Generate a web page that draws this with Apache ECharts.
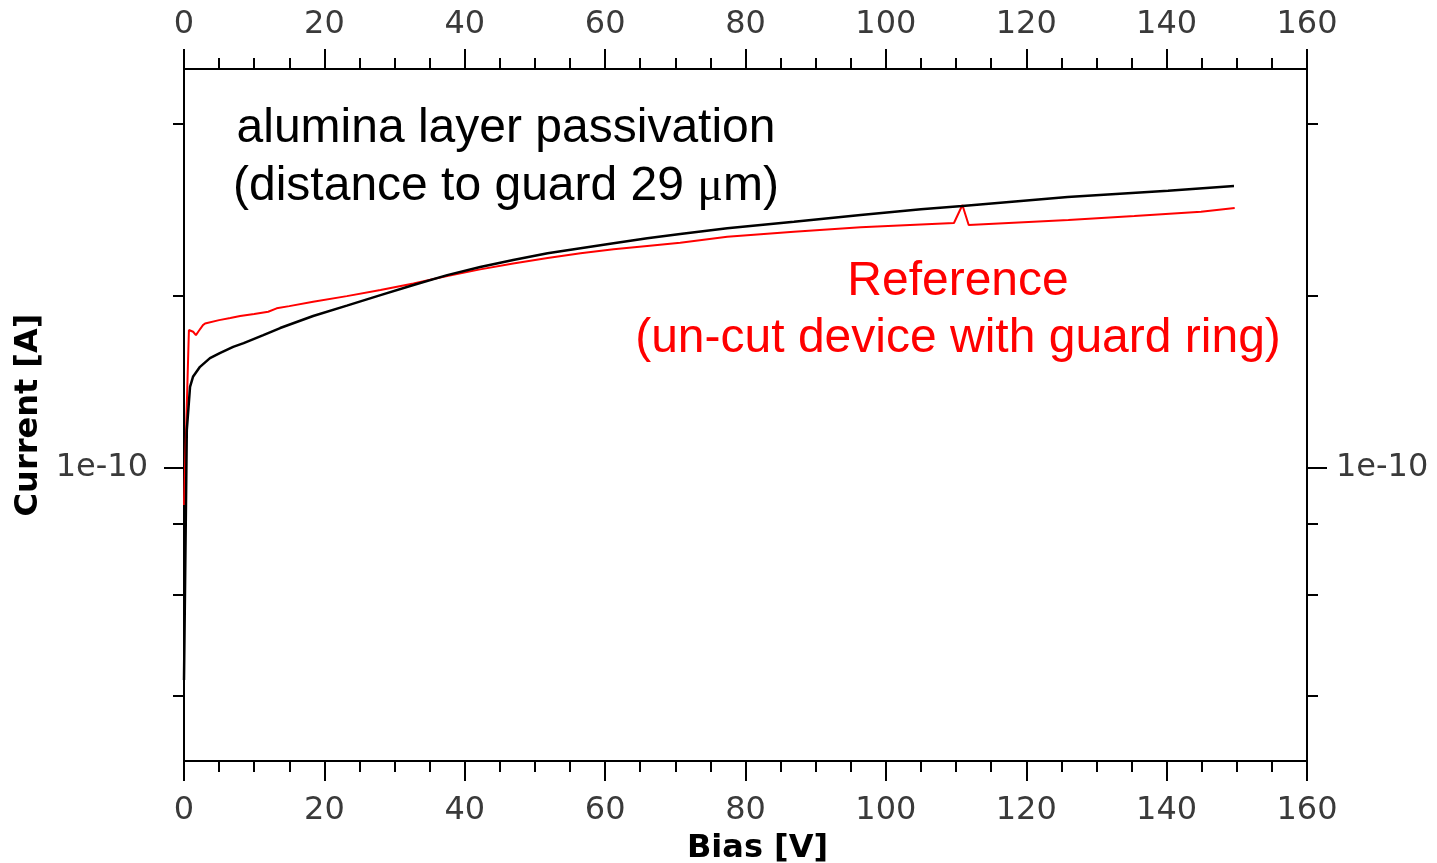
<!DOCTYPE html>
<html><head><meta charset="utf-8">
<script src="https://cdn.jsdelivr.net/npm/echarts@6/dist/echarts.min.js"></script>
<style>html,body{margin:0;padding:0;background:#fff}#c{width:1437px;height:863px}</style>
</head><body><div id="c"></div>
<script>
// ---- data ----
const biasBlack = [0, 0.4, 0.86, 1.28, 2.28, 3.7, 5.1, 7, 8.5, 11.3, 13.7, 18.4, 23.2, 28, 32.7, 37.5, 42.2, 46.9, 51.8, 56.5, 61.2, 66, 70.7, 77.4, 86.9, 96.4, 105, 110.9, 125.9, 140.2, 149.6];
const currentBlack = [4.26e-11, 1.165e-10, 1.387e-10, 1.444e-10, 1.503e-10, 1.557e-10, 1.589e-10, 1.629e-10, 1.654e-10, 1.708e-10, 1.757e-10, 1.844e-10, 1.923e-10, 2.006e-10, 2.089e-10, 2.174e-10, 2.246e-10, 2.310e-10, 2.374e-10, 2.422e-10, 2.471e-10, 2.522e-10, 2.566e-10, 2.625e-10, 2.696e-10, 2.770e-10, 2.834e-10, 2.872e-10, 2.978e-10, 3.054e-10, 3.113e-10];
const biasRed = [0, 0.7, 1.3, 1.7, 2.1, 2.7, 3, 5, 6.6, 8, 10, 12, 13.2, 15, 18.4, 23.2, 28, 32.7, 37.5, 42.2, 46.9, 51.8, 56.5, 61.2, 66, 70.7, 77.4, 86.9, 96.4, 105, 109.7, 110.9, 111.8, 126, 135.4, 144.9, 149.7];
const currentRed = [8.62e-11, 1.743e-10, 1.731e-10, 1.708e-10, 1.736e-10, 1.778e-10, 1.789e-10, 1.814e-10, 1.829e-10, 1.844e-10, 1.859e-10, 1.876e-10, 1.902e-10, 1.919e-10, 1.953e-10, 1.998e-10, 2.047e-10, 2.103e-10, 2.166e-10, 2.225e-10, 2.279e-10, 2.329e-10, 2.374e-10, 2.412e-10, 2.445e-10, 2.477e-10, 2.538e-10, 2.590e-10, 2.636e-10, 2.666e-10, 2.682e-10, 2.883e-10, 2.660e-10, 2.715e-10, 2.759e-10, 2.807e-10, 2.849e-10];
const xMin = 0, xMax = 160, xStep = 20;
const yMin = 3.075e-11, yMax = 4.985e-10;
const yMinorTicks = [4e-11, 6e-11, 8e-11, 2e-10, 4e-10];
const yMajorTicks = [1e-10];
const textBlack = ['alumina layer passivation', '(distance to guard 29 {mu|\u03bc}m)'];
const textRed = ['Reference', '(un-cut device with guard ring)'];

// ---- chart ----
const lg = Math.log10;
const tickFont = {fontFamily: 'DejaVu Sans', fontSize: 32, color: '#3a3a3a'};
const nameFont = {fontFamily: 'DejaVu Sans', fontSize: 32, fontWeight: 'bold', color: '#000'};
const lineStyle = {color: '#000', width: 2};

function xAxis(pos, withName, margin) {
  return {
    type: 'value', position: pos, min: xMin, max: xMax, interval: xStep,
    axisLine: {show: true, onZero: false, lineStyle},
    axisTick: {show: true, length: 20, lineStyle},
    minorTick: {show: true, splitNumber: 4, length: 11, lineStyle},
    splitLine: {show: false}, minorSplitLine: {show: false},
    axisLabel: Object.assign({margin}, tickFont),
    name: withName ? 'Bias [V]' : '', nameLocation: 'middle', nameGap: 72,
    nameTextStyle: Object.assign({padding: [0, 0, 0, 24]}, nameFont)
  };
}
function yAxis(pos, major, margin, withName) {
  return {
    type: 'value', position: pos, min: lg(yMin), max: lg(yMax),
    axisLine: {show: true, onZero: false, lineStyle},
    axisTick: {show: true, length: major ? 20 : 11, lineStyle,
               customValues: (major ? yMajorTicks : yMinorTicks).map(lg)},
    splitLine: {show: false},
    axisLabel: major ? Object.assign({show: true, margin, customValues: yMajorTicks.map(lg),
               formatter: v => '1e' + Math.round(v)}, tickFont) : {show: false},
    name: withName ? 'Current [A]' : '', nameLocation: 'middle', nameGap: 128, nameRotate: 90,
    nameTextStyle: nameFont
  };
}

const chart = echarts.init(document.getElementById('c'), null, {renderer: 'canvas'});
chart.setOption({
  animation: false,
  backgroundColor: '#fff',
  grid: {left: 184, right: 130, top: 69, bottom: 102, containLabel: false, outerBoundsMode: 'none'},
  xAxis: [xAxis('bottom', true, 34), xAxis('top', false, 28)],
  yAxis: [yAxis('left', false), yAxis('left', true, 36, true), yAxis('right', false), yAxis('right', true, 29, false)],
  series: [
    {type: 'line', name: 'Reference', xAxisIndex: 0, yAxisIndex: 0, showSymbol: false,
     lineStyle: {color: '#ff0000', width: 2}, itemStyle: {color: '#ff0000'},
     data: biasRed.map((v, i) => [v, lg(currentRed[i])])},
    {type: 'line', name: 'alumina', xAxisIndex: 0, yAxisIndex: 0, showSymbol: false,
     lineStyle: {color: '#000', width: 2.5}, itemStyle: {color: '#000'},
     data: biasBlack.map((v, i) => [v, lg(currentBlack[i])])}
  ],
  graphic: [
    [textBlack[0], 506, 129, '#000'], [textBlack[1], 506, 187, '#000'],
    [textRed[0], 958, 282, '#ff0000'], [textRed[1], 958, 339, '#ff0000']
  ].map(([t, x, y, c]) => ({
    type: 'text', x, y, silent: true,
    style: {text: t, fill: c, fontFamily: 'Liberation Sans', fontSize: 48,
            align: 'center', verticalAlign: 'middle',
            rich: {mu: {fontFamily: 'Liberation Serif', fontSize: 48, fill: c}}}
  }))
});
</script></body></html>
